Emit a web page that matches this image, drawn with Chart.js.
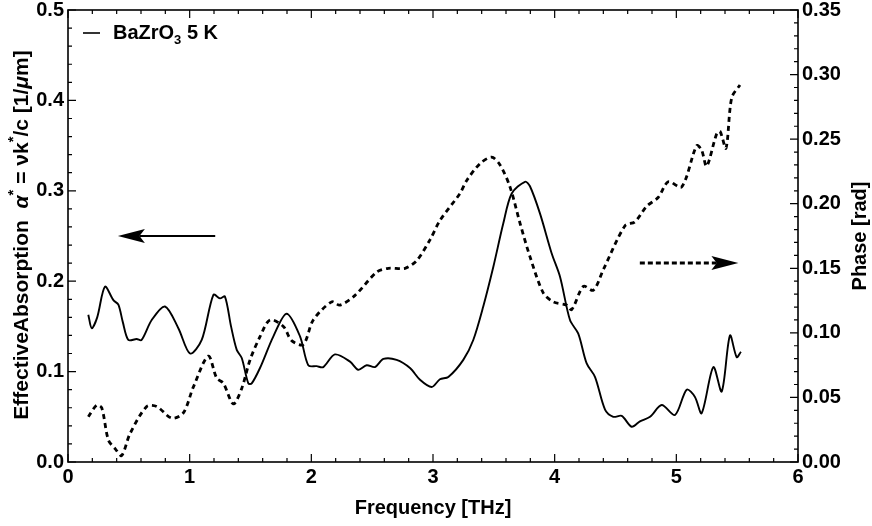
<!DOCTYPE html>
<html>
<head>
<meta charset="utf-8">
<script src="https://cdn.jsdelivr.net/npm/chart.js@4.4.1/dist/chart.umd.min.js"></script>
<style>
  html, body { margin: 0; padding: 0; background: #fff; }
</style>
</head>
<body>
<canvas id="myChart" width="872" height="526"></canvas>
<script>
// effective absorption (left axis)
const absFreq = [0.167, 0.195, 0.24, 0.304, 0.373, 0.414, 0.45, 0.496, 0.564, 0.605, 0.688, 0.797, 0.907,
  1.003, 1.099, 1.195, 1.249, 1.29, 1.34, 1.387, 1.428, 1.482, 1.51, 1.578, 1.688, 1.797, 1.907, 1.975,
  2.044, 2.098, 2.194, 2.318, 2.386, 2.455, 2.523, 2.592, 2.701, 2.811, 2.893, 2.989, 3.057, 3.126,
  3.249, 3.331, 3.413, 3.496, 3.578, 3.647, 3.756, 3.797, 3.879, 3.975, 4.044, 4.126, 4.194, 4.263,
  4.332, 4.414, 4.482, 4.551, 4.633, 4.701, 4.784, 4.88, 4.989, 5.085, 5.153, 5.208, 5.304, 5.373,
  5.441, 5.496, 5.531]
const absorption = [0.163, 0.148, 0.16, 0.194, 0.179, 0.174, 0.155, 0.135, 0.136, 0.135, 0.157, 0.172, 0.148,
  0.12, 0.135, 0.185, 0.181, 0.183, 0.15, 0.124, 0.115, 0.087, 0.087, 0.104, 0.139, 0.164, 0.139, 0.107,
  0.106, 0.105, 0.119, 0.111, 0.102, 0.107, 0.105, 0.114, 0.113, 0.104, 0.091, 0.083, 0.0915, 0.094,
  0.113, 0.135, 0.172, 0.216, 0.264, 0.297, 0.31, 0.305, 0.275, 0.231, 0.205, 0.157, 0.142, 0.109,
  0.094, 0.058, 0.05, 0.051, 0.039, 0.045, 0.05, 0.063, 0.052, 0.08, 0.072, 0.054, 0.105, 0.078,
  0.14, 0.116, 0.122]

// phase (right axis)
const phaseFreq = [0.167, 0.236, 0.277, 0.332, 0.39, 0.441, 0.51, 0.647, 0.729, 0.852, 0.948, 1.03, 1.153,
  1.222, 1.277, 1.359, 1.428, 1.496, 1.578, 1.66, 1.77, 1.838, 1.934, 2.016, 2.167, 2.236, 2.359, 2.537,
  2.633, 2.77, 2.866, 2.975, 3.057, 3.222, 3.277, 3.386, 3.482, 3.551, 3.633, 3.715, 3.797, 3.906,
  3.989, 4.099, 4.14, 4.236, 4.318, 4.4, 4.578, 4.66, 4.756, 4.852, 4.934, 5.044, 5.167, 5.208, 5.249,
  5.331, 5.359, 5.408, 5.455, 5.523]
const phase = [0.035, 0.044, 0.042, 0.017, 0.01, 0.005, 0.022, 0.043, 0.043, 0.034, 0.038, 0.058, 0.082,
  0.065, 0.061, 0.045, 0.057, 0.079, 0.097, 0.11, 0.105, 0.094, 0.091, 0.11, 0.124, 0.1215, 0.129, 0.147,
  0.15, 0.15, 0.156, 0.172, 0.187, 0.208, 0.218, 0.231, 0.236, 0.23, 0.213, 0.185, 0.159, 0.131,
  0.124, 0.1215, 0.118, 0.136, 0.133, 0.149, 0.183, 0.186, 0.198, 0.205, 0.217, 0.213, 0.245, 0.2415, 0.229,
  0.254, 0.256, 0.243, 0.282, 0.292]

const legendLabel = "BaZrO"
// arrows in left-axis units: [xTail, xHead, y]
const absArrow = [1.21, 0.41, 0.25]
const phaseArrow = [4.70, 5.51, 0.22]

const FONT = "Liberation Sans, Arial, sans-serif"
const tickFont = { family: FONT, size: 20, weight: "bold" }

function toPoints(xs, ys) {
  return xs.map((x, i) => ({ x: x, y: ys[i] }))
}

function drawArrow(ctx, x0, x1, y, dashed) {
  const dir = Math.sign(x1 - x0)
  const headLen = 27, headW = 7
  ctx.save()
  ctx.strokeStyle = "#000"
  ctx.fillStyle = "#000"
  ctx.lineWidth = dashed ? 3 : 2
  if (dashed) ctx.setLineDash([5, 3])
  ctx.beginPath()
  ctx.moveTo(x0, y)
  ctx.lineTo(x1 - dir * headLen * 0.8, y)
  ctx.stroke()
  ctx.setLineDash([])
  ctx.beginPath()
  ctx.moveTo(x1, y)
  ctx.lineTo(x1 - dir * headLen, y - headW)
  ctx.lineTo(x1 - dir * headLen * 0.8, y)
  ctx.lineTo(x1 - dir * headLen, y + headW)
  ctx.closePath()
  ctx.fill()
  ctx.restore()
}

// draws pieces of text one after another: [text, font, dy]
function drawRuns(ctx, runs, x, y) {
  let w = 0
  runs.forEach((r) => { ctx.font = r[1]; w += ctx.measureText(r[0]).width })
  let cx = x - w / 2
  runs.forEach((r) => {
    ctx.font = r[1]
    ctx.fillText(r[0], cx, y + (r[2] || 0))
    cx += ctx.measureText(r[0]).width
  })
}

const decorations = {
  id: "decorations",
  afterDraw(chart) {
    const ctx = chart.ctx
    const a = chart.chartArea
    const xs = chart.scales.x, yl = chart.scales.y, yr = chart.scales.y1
    ctx.save()
    ctx.strokeStyle = "#000"
    ctx.fillStyle = "#000"

    // frame
    ctx.lineWidth = 1.6
    ctx.strokeRect(a.left, a.top, a.right - a.left, a.bottom - a.top)

    // inward ticks
    ctx.lineWidth = 1.2
    ctx.beginPath()
    for (let i = 0; i <= 30; i++) {
      const px = xs.getPixelForValue(i * 0.2)
      const len = i % 5 === 0 ? 8 : 4
      ctx.moveTo(px, a.bottom); ctx.lineTo(px, a.bottom - len)
      ctx.moveTo(px, a.top); ctx.lineTo(px, a.top + len)
    }
    for (let i = 0; i <= 25; i++) {
      const py = yl.getPixelForValue(i * 0.02)
      const len = i % 5 === 0 ? 8 : 4
      ctx.moveTo(a.left, py); ctx.lineTo(a.left + len, py)
    }
    for (let i = 0; i <= 35; i++) {
      const py = yr.getPixelForValue(i * 0.01)
      const len = i % 5 === 0 ? 8 : 4
      ctx.moveTo(a.right, py); ctx.lineTo(a.right - len, py)
    }
    ctx.stroke()

    // axis titles
    const big = "bold 20px " + FONT
    const sup = "bold 13px " + FONT
    const left = "bold 21px " + FONT
    const leftIt = "italic bold 21px " + FONT
    const star = "bold 15px " + FONT
    ctx.textBaseline = "middle"
    drawRuns(ctx, [["Frequency [THz]", big]], (a.left + a.right) / 2, 508)

    ctx.save()
    ctx.translate(22, 235)
    ctx.rotate(-Math.PI / 2)
    drawRuns(ctx, [
      ["EffectiveAbsorption  ", left], ["\u03b1", leftIt], ["*", star, -8],
      [" = \u03bdk", left], ["*", star, -8], ["/c [1/", left], ["\u03bc", leftIt], ["m]", left]
    ], 0, 0)
    ctx.restore()

    ctx.save()
    ctx.translate(860, (a.top + a.bottom) / 2)
    ctx.rotate(-Math.PI / 2)
    drawRuns(ctx, [["Phase [rad]", big]], 0, 0)
    ctx.restore()

    // legend
    ctx.lineWidth = 1.6
    ctx.beginPath()
    ctx.moveTo(a.left + 15, 33); ctx.lineTo(a.left + 32, 33)
    ctx.stroke()
    ctx.textAlign = "left"
    ctx.font = big
    ctx.fillText(legendLabel, a.left + 45, 33)
    let lx = a.left + 45 + ctx.measureText(legendLabel).width
    ctx.font = sup
    ctx.fillText("3", lx, 40)
    lx += ctx.measureText("3").width
    ctx.font = big
    ctx.fillText(" 5 K", lx, 33)

    // arrows
    drawArrow(ctx, xs.getPixelForValue(absArrow[0]), xs.getPixelForValue(absArrow[1]),
      yl.getPixelForValue(absArrow[2]), false)
    drawArrow(ctx, xs.getPixelForValue(phaseArrow[0]), xs.getPixelForValue(phaseArrow[1]),
      yl.getPixelForValue(phaseArrow[2]), true)
    ctx.restore()
  }
}

const noGrid = { display: false, drawTicks: false, tickLength: 0 }

function drawChart() {
  const ctx = document.getElementById("myChart")
  new Chart(ctx, {
    type: "line",
    data: {
      datasets: [{
        label: "Effective absorption",
        data: toPoints(absFreq, absorption),
        borderColor: "#000",
        borderWidth: 1.9,
        pointRadius: 0,
        tension: 0.3,
        yAxisID: "y"
      }, {
        label: "Phase",
        data: toPoints(phaseFreq, phase),
        borderColor: "#000",
        borderWidth: 2.8,
        borderDash: [5, 4],
        pointRadius: 0,
        tension: 0.3,
        yAxisID: "y1"
      }]
    },
    options: {
      responsive: false,
      animation: false,
      layout: { padding: { top: 10, left: 0, right: 0, bottom: 0 } },
      plugins: { legend: { display: false }, tooltip: { enabled: false } },
      scales: {
        x: {
          type: "linear",
          min: 0,
          max: 6,
          grid: noGrid,
          border: { display: false },
          ticks: { stepSize: 1, font: tickFont, color: "#000", padding: 3, maxRotation: 0 },
          afterFit: (s) => { s.height = 64; s.paddingLeft = 0; s.paddingRight = 0 }
        },
        y: {
          position: "left",
          min: 0,
          max: 0.5,
          grid: noGrid,
          border: { display: false },
          ticks: { stepSize: 0.1, font: tickFont, color: "#000", padding: 4,
            callback: (v) => v.toFixed(1) },
          afterFit: (s) => { s.width = 68; s.paddingTop = 0; s.paddingBottom = 0 }
        },
        y1: {
          position: "right",
          min: 0,
          max: 0.35,
          grid: noGrid,
          border: { display: false },
          ticks: { stepSize: 0.05, font: tickFont, color: "#000", padding: 4,
            callback: (v) => v.toFixed(2) },
          afterFit: (s) => { s.width = 74; s.paddingTop = 0; s.paddingBottom = 0 }
        }
      }
    },
    plugins: [decorations]
  })
}
drawChart()
</script>
</body>
</html>
